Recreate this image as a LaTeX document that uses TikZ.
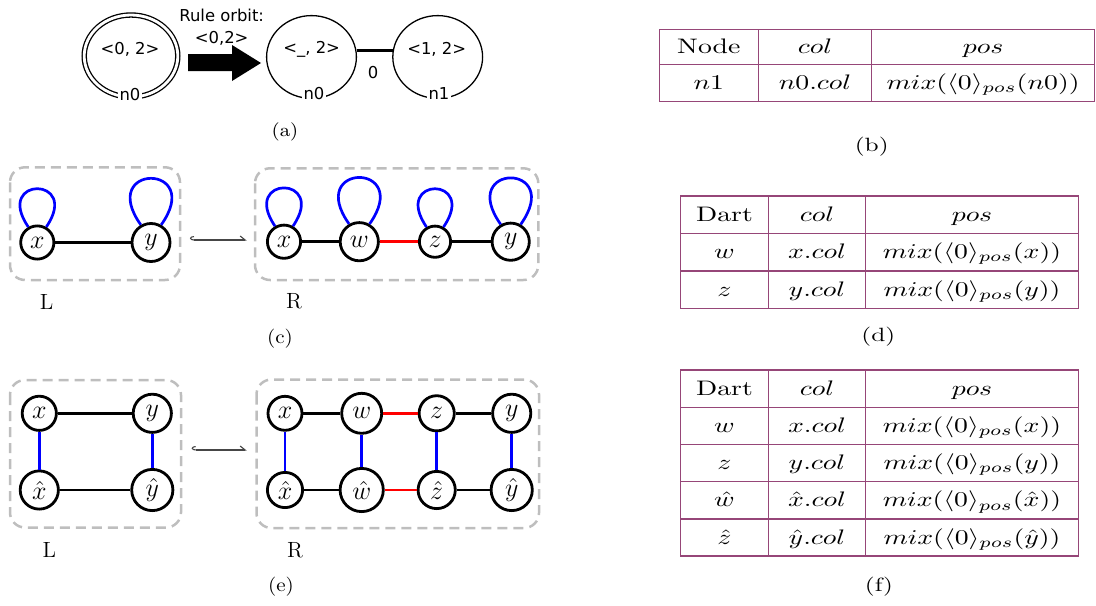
\RequirePackage{fix-cm}
\documentclass[tikz,border=0pt]{standalone}
\usepackage{fontspec}
\usepackage{graphicx}
\usetikzlibrary{shapes.geometric,arrows.meta}
\newfontfamily\djv{DejaVu Sans}
\definecolor{tabc}{RGB}{150,70,120}
\definecolor{boxc}{RGB}{190,190,190}
\definecolor{hookc}{RGB}{70,70,70}
\newcommand{\hstr}[1]{\scalebox{1.32}[1]{#1}}
\newcommand{\cstr}[1]{\scalebox{1.1}[1]{#1}}
\begin{document}
\begin{tikzpicture}[x=0.5pt,y=-0.5pt,
  sanslab/.style={font=\djv\fontsize{8.2}{10}\selectfont, inner sep=0pt},
  ell/.style={ellipse, draw, line width=0.65pt, inner sep=0pt},
  botlab/.style={font=\djv\fontsize{8.2}{10}\selectfont, fill=white, inner sep=0.8pt},
  gnode/.style={circle, draw, line width=1.4pt, inner sep=0pt, minimum size=#1 pt, font=\fontsize{13}{15}\selectfont},
  bedge/.style={line width=1.3pt},
  redge/.style={line width=1.3pt, red},
  bluel/.style={line width=1.35pt, blue},
  dbox/.style={draw=boxc, line width=1.25pt, dash pattern=on 5pt off 3pt, rounded corners=7.5pt},
  hookarr/.style={draw=hookc, line width=0.55pt, arrows={Hooks[right,length=2pt,width=4pt]-Straight Barb[left,length=2.5pt,width=4pt]}},
  tab/.style={draw=tabc, line width=0.75pt},
  tcell/.style={anchor=base, inner sep=0pt, font=\fontsize{10.5}{12}\selectfont},
  captext/.style={inner sep=0pt, font=\fontsize{9.6}{11}\selectfont},
  lrlab/.style={inner sep=0pt, font=\fontsize{11}{13}\selectfont}
]
\useasboundingbox (0,0) rectangle (1096,605);

% ---------- (a) ----------
\node[ell, double, double distance=1.4pt, minimum width=46.8pt, minimum height=41pt] (a0) at (131,56) {};
\node[sanslab] (a0t) at (130,49) {<0, 2>};
\node[botlab] (a0l) at (130,95) {n0};
\node[ell, minimum width=44.9pt, minimum height=41.4pt] (a1) at (311.5,57) {};
\node[ell, minimum width=44.9pt, minimum height=41.4pt] (a2) at (437.7,57) {};
\node[sanslab] (a1t) at (311.7,49) {<\_, 2>};
\node[sanslab] (a2t) at (436.7,49) {<1, 2>};
\node[botlab] (a1l) at (314,94) {n0};
\node[botlab] (a2l) at (439,94) {n1};
\draw[line width=1.35pt] (a1.8) -- (a2.172);
\node[sanslab] (a12) at (373,72.7) {0};
\fill (188,54) -- (232,54) -- (232,45) -- (261,63) -- (232,81) -- (232,71) -- (188,71) -- cycle;
\node[sanslab] (ro1) at (221.7,15) {Rule orbit:};
\node[sanslab] (ro2) at (221.7,38) {<0,2>};
\node[captext, font=\fontsize{9.2}{11}\selectfont] (capa) at (285,131.7) {\cstr{(a)}};

% ---------- (b) ----------
\draw[tab] (659.3,29.3) rectangle (1094.5,101.7);
\draw[tab] (659.3,64.3) -- (1094.5,64.3);
\draw[tab] (758.3,29.3) -- (758.3,101.7);
\draw[tab] (871.7,29.3) -- (871.7,101.7);
\node[tcell] (b11) at (708.8,53.3) {\hstr{Node}};
\node[tcell] (b12) at (815,53.3) {\hstr{$col$}};
\node[tcell] (b13) at (983.1,53.3) {\hstr{$pos$}};
\node[tcell] (b21) at (708.8,89.5) {\hstr{$n1$}};
\node[tcell] (b22) at (815,89.5) {\hstr{$n0.col$}};
\node[tcell] (b23) at (983.1,89.5) {\hstr{$mix(\langle 0\rangle_{pos}(n0))$}};
\node[captext] (capb) at (871.7,147) {\hstr{(b)}};

% ---------- (c) ----------
\draw[dbox] (10,167.3) rectangle (180,280);
\node[gnode=16.6] (cLx) at (37.3,242.5) {$x$};
\node[gnode=19] (cLy) at (151,242.5) {$y$};
\draw[bedge] (cLx) -- (cLy);
\draw[bluel] (cLx.60) .. controls +(35,-51) and +(-35,-51) .. (cLx.120);
\draw[bluel] (cLy.60) .. controls +(44,-62) and +(-44,-62) .. (cLy.120);
\coordinate (ch1) at (190,240);
\coordinate (ch2) at (246.7,240);
\draw[hookarr] (ch1) -- (ch2);
\draw[dbox] (255,168.3) rectangle (538.3,280);
\node[gnode=16.6] (cRx) at (284,241.7) {$x$};
\node[gnode=19.1] (cRw) at (359.3,241.7) {$w$};
\node[gnode=15.6] (cRz) at (435,241.7) {$z$};
\node[gnode=18.6] (cRy) at (510.7,241.7) {$y$};
\draw[bedge] (cRx) -- (cRw);
\draw[redge] (cRw) -- (cRz);
\draw[bedge] (cRz) -- (cRy);
\draw[bluel] (cRx.60) .. controls +(35,-51) and +(-35,-51) .. (cRx.120);
\draw[bluel] (cRw.60) .. controls +(44,-62) and +(-44,-62) .. (cRw.120);
\draw[bluel] (cRz.60) .. controls +(35,-51) and +(-35,-51) .. (cRz.120);
\draw[bluel] (cRy.60) .. controls +(44,-62) and +(-44,-62) .. (cRy.120);
\node[lrlab] (cL) at (46.7,301.7) {L};
\node[lrlab] (cR) at (294,301.7) {R};
\node[captext] (capc) at (280,338.3) {\cstr{(c)}};

% ---------- (d) ----------
\draw[tab] (680.7,196) rectangle (1078.3,308.3);
\draw[tab] (680.7,233.3) -- (1078.3,233.3);
\draw[tab] (680.7,271) -- (1078.3,271);
\draw[tab] (768.3,196) -- (768.3,308.3);
\draw[tab] (865.7,196) -- (865.7,308.3);
\node[tcell] (d11) at (724.5,221.2) {\hstr{Dart}};
\node[tcell] (d12) at (817,221.2) {\hstr{$col$}};
\node[tcell] (d13) at (972,221.2) {\hstr{$pos$}};
\node[tcell] (d21) at (724.5,258.7) {\hstr{$w$}};
\node[tcell] (d22) at (817,258.7) {\hstr{$x.col$}};
\node[tcell] (d23) at (972,258.7) {\hstr{$mix(\langle 0\rangle_{pos}(x))$}};
\node[tcell] (d31) at (724.5,296.2) {\hstr{$z$}};
\node[tcell] (d32) at (817,296.2) {\hstr{$y.col$}};
\node[tcell] (d33) at (972,296.2) {\hstr{$mix(\langle 0\rangle_{pos}(y))$}};
\node[captext] (capd) at (878.3,336.7) {\hstr{(d)}};

% ---------- (e) ----------
\draw[dbox] (10,380) rectangle (181,527.5);
\node[gnode=17.1] (eLx) at (39.3,413.3) {$x$};
\node[gnode=19.1] (eLy) at (152.3,413.3) {$y$};
\node[gnode=19.1] (eLxh) at (39.3,490) {$\hat{x}$};
\node[gnode=20.6] (eLyh) at (152.3,490) {$\hat{y}$};
\draw[bedge] (eLx) -- (eLy);
\draw[bedge] (eLxh) -- (eLyh);
\draw[bluel] (eLx) -- (eLxh);
\draw[bluel] (eLy) -- (eLyh);
\coordinate (eh1) at (191.7,450);
\coordinate (eh2) at (246.7,450);
\draw[hookarr] (eh1) -- (eh2);
\draw[dbox] (256.5,379.5) rectangle (539,528);
\node[gnode=17] (eRx) at (285,413.3) {$x$};
\node[gnode=20] (eRw) at (361.7,413.3) {$w$};
\node[gnode=17.6] (eRz) at (436.7,413.3) {$z$};
\node[gnode=19.1] (eRy) at (511.7,413.3) {$y$};
\node[gnode=17.6] (eRxh) at (285,490) {$\hat{x}$};
\node[gnode=21.6] (eRwh) at (361.7,490) {$\hat{w}$};
\node[gnode=18.6] (eRzh) at (436.7,490) {$\hat{z}$};
\node[gnode=20.6] (eRyh) at (511.7,490) {$\hat{y}$};
\draw[bedge] (eRx) -- (eRw);
\draw[redge] (eRw) -- (eRz);
\draw[bedge] (eRz) -- (eRy);
\draw[bedge] (eRxh) -- (eRwh);
\draw[redge] (eRwh) -- (eRzh);
\draw[bedge] (eRzh) -- (eRyh);
\draw[bluel] (eRx) -- (eRxh);
\draw[bluel] (eRw) -- (eRwh);
\draw[bluel] (eRz) -- (eRzh);
\draw[bluel] (eRy) -- (eRyh);
\node[lrlab] (eL) at (49.3,550) {L};
\node[lrlab] (eR) at (295,550) {R};
\node[captext] (cape) at (281,586.7) {\cstr{(e)}};

% ---------- (f) ----------
\draw[tab] (680.7,370) rectangle (1078.3,556);
\foreach \yy in {407.3,444.3,481.7,519} {\draw[tab] (680.7,\yy) -- (1078.3,\yy);}
\draw[tab] (768.3,370) -- (768.3,556);
\draw[tab] (865.7,370) -- (865.7,556);
\node[tcell] (f11) at (724.5,395.2) {\hstr{Dart}};
\node[tcell] (f12) at (817,395.2) {\hstr{$col$}};
\node[tcell] (f13) at (972,395.2) {\hstr{$pos$}};
\node[tcell] (f21) at (724.5,432.3) {\hstr{$w$}};
\node[tcell] (f22) at (817,432.3) {\hstr{$x.col$}};
\node[tcell] (f23) at (972,432.3) {\hstr{$mix(\langle 0\rangle_{pos}(x))$}};
\node[tcell] (f31) at (724.5,469.5) {\hstr{$z$}};
\node[tcell] (f32) at (817,469.5) {\hstr{$y.col$}};
\node[tcell] (f33) at (972,469.5) {\hstr{$mix(\langle 0\rangle_{pos}(y))$}};
\node[tcell] (f41) at (724.5,506.9) {\hstr{$\hat{w}$}};
\node[tcell] (f42) at (817,506.9) {\hstr{$\hat{x}.col$}};
\node[tcell] (f43) at (972,506.9) {\hstr{$mix(\langle 0\rangle_{pos}(\hat{x}))$}};
\node[tcell] (f51) at (724.5,544) {\hstr{$\hat{z}$}};
\node[tcell] (f52) at (817,544) {\hstr{$\hat{y}.col$}};
\node[tcell] (f53) at (972,544) {\hstr{$mix(\langle 0\rangle_{pos}(\hat{y}))$}};
\node[captext] (capf) at (879,586.7) {\hstr{(f)}};
\end{tikzpicture}
\end{document}
